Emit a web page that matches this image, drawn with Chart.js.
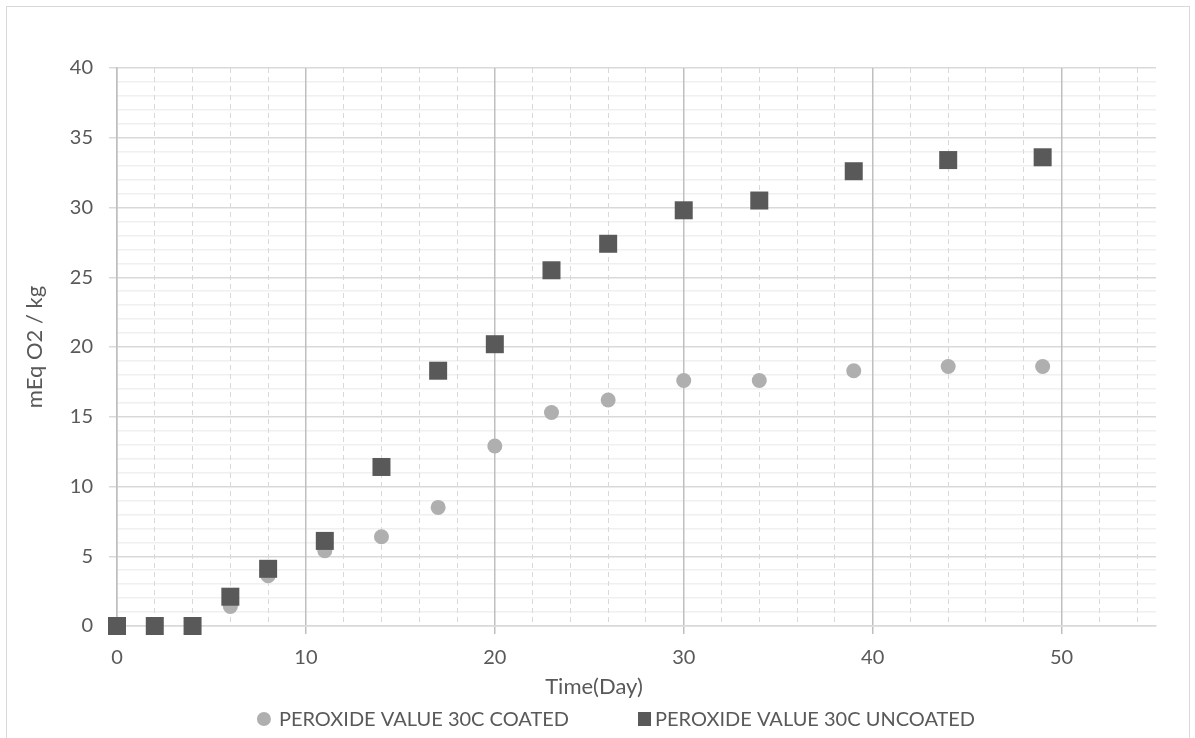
<!DOCTYPE html>
<html>
<head>
<meta charset="utf-8">
<script src="https://cdn.jsdelivr.net/npm/chart.js@4.4.1/dist/chart.umd.min.js"></script>
<style>
  html, body { margin: 0; padding: 0; background: #ffffff; overflow: hidden; }
  #wrap { position: relative; width: 1195px; height: 738px; }
  #frame {
    position: absolute; left: 6px; top: 6px; width: 1184px; height: 780px;
    border: 1px solid #d9d9d9; box-sizing: border-box; pointer-events: none;
  }
  canvas { position: absolute; left: 0; top: 0; }
</style>
</head>
<body>
<div id="wrap">
  <canvas id="pv" width="1195" height="738"></canvas>
  <div id="frame"></div>
</div>
<script>
// Storage time (days) and peroxide values (mEq O2 / kg) at 30 °C
const days       = [0, 2, 4, 6, 8, 11, 14, 17, 20, 23, 26, 30, 34, 39, 44, 49];
const coatedPV   = [0, 0, 0, 1.4, 3.6, 5.4, 6.4, 8.5, 12.9, 15.3, 16.2, 17.6, 17.6, 18.3, 18.6, 18.6];
const uncoatedPV = [0, 0, 0, 2.1, 4.1, 6.1, 11.4, 18.3, 20.2, 25.5, 27.4, 29.8, 30.5, 32.6, 33.4, 33.6];

const seriesNames = ['PEROXIDE VALUE 30C COATED', 'PEROXIDE VALUE 30C UNCOATED'];
const xAxisTitle = 'Time(Day)';
const yAxisTitle = 'mEq O2 / kg';

const TEXT = '#595959';
const FAMILY = 'Lato, "Open Sans", "DejaVu Sans", sans-serif';
const CLEAR = 'rgba(0,0,0,0)';

const toPoints = ys => days.map((d, i) => ({ x: d, y: ys[i] }));

// x-axis title and legend below the plot
const bottomText = {
  id: 'bottomText',
  afterDraw(chart) {
    const ctx = chart.ctx;
    ctx.save();
    ctx.fillStyle = TEXT;
    ctx.textBaseline = 'middle';
    ctx.textAlign = 'center';
    ctx.font = '22px ' + FAMILY;
    ctx.fillText(xAxisTitle, 594, 687);

    ctx.font = '20px ' + FAMILY;
    const sets = chart.data.datasets;
    const widths = sets.map(d => ctx.measureText(d.label).width);
    const lead = [22, 17];
    const gap = 69;
    const total = lead[0] + widths[0] + gap + lead[1] + widths[1];
    let x = 616 - total / 2;
    const y = 719;
    ctx.textAlign = 'left';
    sets.forEach((d, i) => {
      ctx.fillStyle = d.backgroundColor;
      if (d.pointStyle === 'circle') {
        ctx.beginPath();
        ctx.arc(x + 7, y, 7, 0, Math.PI * 2);
        ctx.fill();
      } else {
        ctx.fillRect(x, y - 7, 13, 14);
      }
      ctx.fillStyle = TEXT;
      ctx.fillText(d.label, x + lead[i], y + 1);
      x += lead[i] + widths[i] + gap;
    });
    ctx.restore();
  }
};

function draw() {
  new Chart(document.getElementById('pv'), {
    type: 'scatter',
    data: {
      datasets: [
        {
          label: seriesNames[0],
          data: toPoints(coatedPV),
          pointStyle: 'circle',
          pointRadius: 7.5,
          pointHoverRadius: 7.5,
          backgroundColor: '#afafaf',
          borderColor: '#afafaf',
          borderWidth: 0,
          clip: false,
          order: 2
        },
        {
          label: seriesNames[1],
          data: toPoints(uncoatedPV),
          pointStyle: 'rect',
          pointRadius: 12.73,
          pointHoverRadius: 12.73,
          backgroundColor: '#595959',
          borderColor: '#595959',
          borderWidth: 0,
          clip: false,
          order: 1
        }
      ]
    },
    options: {
      responsive: false,
      animation: false,
      devicePixelRatio: 1,
      layout: { padding: { left: 0, top: 68, right: 39, bottom: 0 } },
      plugins: { legend: { display: false }, tooltip: { enabled: false } },
      scales: {
        x: {
          type: 'linear',
          min: 0,
          max: 55,
          afterFit: s => { s.height = 112; },
          ticks: {
            stepSize: 2,
            includeBounds: false,
            autoSkip: false,
            maxRotation: 0,
            padding: 12,
            color: TEXT,
            font: { family: FAMILY, size: 20 },
            callback: v => (v % 10 === 0 ? String(v) : '')
          },
          grid: {
            z: -1,
            color: c => (c.tick && c.tick.value % 10 === 0 ? '#bfbfbf' : '#d9d9d9'),
            lineWidth: c => (c.tick && c.tick.value % 10 === 0 ? 1.5 : 1),
            tickLength: 8,
            tickColor: c => (c.tick && c.tick.value % 10 === 0 && c.tick.value > 0 ? '#bfbfbf' : CLEAR),
            tickWidth: 1.5
          },
          border: {
            color: '#d9d9d9',
            width: 1.5,
            dash: c => (c.tick && c.tick.value % 10 !== 0 ? [5, 4] : [])
          }
        },
        y: {
          type: 'linear',
          min: 0,
          max: 40,
          afterFit: s => { s.width = 117; },
          ticks: {
            stepSize: 1,
            autoSkip: false,
            padding: 16,
            color: TEXT,
            font: { family: FAMILY, size: 20 },
            callback: v => (v % 5 === 0 ? String(v) : '')
          },
          grid: {
            z: -2,
            color: c => (c.tick && c.tick.value % 5 === 0 ? '#d9d9d9' : '#f0f0f0'),
            lineWidth: 1.5,
            tickLength: 8,
            tickColor: c => (c.tick && c.tick.value % 5 === 0 ? '#d9d9d9' : CLEAR)
          },
          border: { color: '#bfbfbf', width: 1.5 },
          title: {
            display: true,
            text: yAxisTitle,
            color: TEXT,
            font: { family: FAMILY, size: 22 },
            padding: { top: 22, bottom: 0 }
          }
        }
      }
    },
    plugins: [bottomText]
  });
}

if (document.fonts && document.fonts.load) {
  document.fonts.load('20px Lato').then(draw, draw);
} else {
  draw();
}
</script>
</body>
</html>
